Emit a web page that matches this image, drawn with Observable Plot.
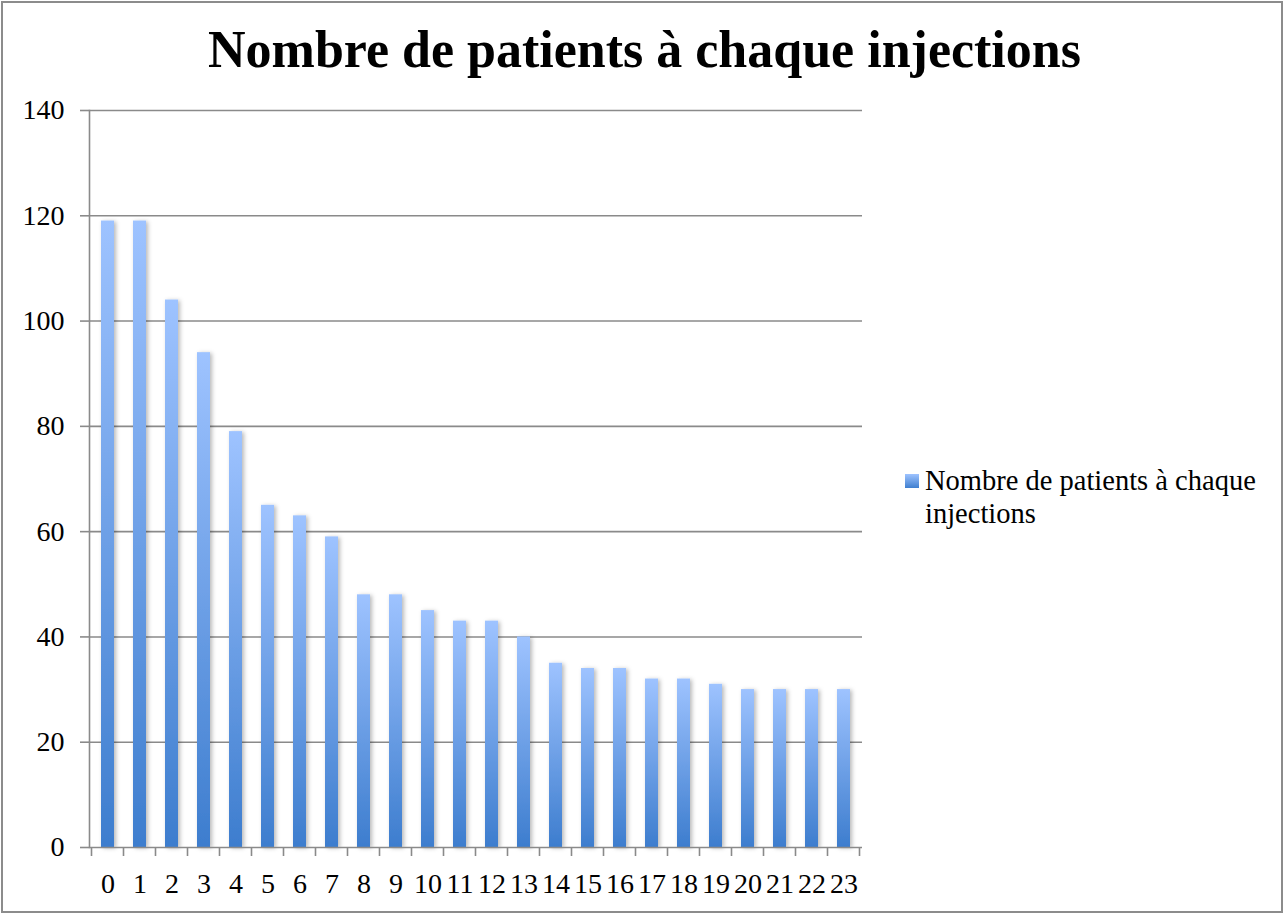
<!DOCTYPE html>
<html><head><meta charset="utf-8">
<script src="https://cdn.jsdelivr.net/npm/d3@7"></script>
<script src="https://cdn.jsdelivr.net/npm/@observablehq/plot@0.6"></script>
<style>
body{margin:0;background:#fff;}
#frame{position:relative;width:1283px;height:914px;overflow:hidden;font-family:"Liberation Serif",serif;color:#000;}
#border{position:absolute;left:1px;top:1px;width:1278px;height:908px;border:2px solid #8c8c8c;}
#title{position:absolute;left:0;width:1289px;top:20px;text-align:center;font-weight:bold;font-size:52px;line-height:60px;}
#chart{position:absolute;left:0;top:0;}
#legend{position:absolute;left:905px;top:464px;font-size:28.5px;line-height:33px;}
#legend .sw{position:absolute;left:0;top:10px;width:14px;height:14px;background:linear-gradient(#9ec3ff,#3f7fcf);}
#legend .tx{position:absolute;left:20px;top:0;white-space:nowrap;}
</style></head>
<body>
<div id="frame">
  <div id="border"></div>
  <div id="chart"></div>
  <div id="title"></div>
  <div id="legend"><div class="sw"></div><div class="tx"></div></div>
</div>
<script>
const titleText = "Nombre de patients à chaque injections";
const legendLines = ["Nombre de patients à chaque", "injections"];
const categories = ["0","1","2","3","4","5","6","7","8","9","10","11","12","13","14","15","16","17","18","19","20","21","22","23"];
const patients = [119,119,104,94,79,65,63,59,48,48,45,43,43,40,35,34,34,32,32,31,30,30,30,30];
const yTicks = [0,20,40,60,80,100,120,140];

const data = categories.map((c, i) => ({cat: c, value: patients[i]}));

document.getElementById("title").textContent = titleText;
document.querySelector("#legend .tx").innerHTML = legendLines.join("<br>");

const gridColor = "#8a8a8a";

const defs = () => {
  const d = d3.create("svg:defs");
  const g = d.append("linearGradient").attr("id", "barGrad").attr("x1", 0).attr("y1", 0).attr("x2", 0).attr("y2", 1);
  g.append("stop").attr("offset", "0%").attr("stop-color", "#9ec3ff");
  g.append("stop").attr("offset", "100%").attr("stop-color", "#3d7dce");
  const f = d.append("filter").attr("id", "shadow").attr("x", "-50%").attr("y", "-10%").attr("width", "200%").attr("height", "130%");
  f.append("feDropShadow").attr("dx", 2).attr("dy", 1).attr("stdDeviation", 2).attr("flood-color", "#000").attr("flood-opacity", 0.28);
  return d.node();
};

const chart = Plot.plot({
  width: 1283,
  height: 914,
  marginTop: 110,
  marginBottom: 67,
  marginLeft: 89,
  marginRight: 421,
  style: {fontFamily: "'Liberation Serif', serif", fontSize: "28px", color: "#000", background: "transparent", overflow: "visible"},
  x: {type: "band", domain: categories, paddingInner: 0.6, paddingOuter: 0.3, label: null},
  y: {domain: [0, 140], label: null},
  marks: [
    defs,
    Plot.gridY(yTicks.filter(t => t > 0), {stroke: gridColor, strokeOpacity: 1, strokeWidth: 1.6}),
    Plot.barY(data, {x: "cat", y: "value", fill: "url(#barGrad)"}),
    Plot.frame({anchor: "left", stroke: gridColor, strokeWidth: 1.6}),
    Plot.ruleY([0], {stroke: gridColor, strokeWidth: 1.6}),
    Plot.axisY(yTicks, {tickSize: 9, tickPadding: 16, stroke: gridColor, strokeWidth: 1.6, fill: "#000", fontSize: 28, label: null}),
    Plot.axisX({tickSize: 0, tickPadding: 26, fill: "#000", fontSize: 28, label: null})
  ]
});

document.getElementById("chart").appendChild(chart);

// shadow on bars
d3.select(chart).selectAll("g[aria-label='bar']").attr("filter", "url(#shadow)");

// x-axis boundary ticks between categories, from the library's scales
const xs = chart.scale("x");
const ys = chart.scale("y");
const y0 = ys.apply(0);
const first = xs.apply(categories[0]) - (xs.step - xs.bandwidth) / 2;
const tg = d3.select(chart).append("g").attr("stroke", gridColor).attr("stroke-width", 1.6);
for (let k = 0; k <= categories.length; k++) {
  const x = first + k * xs.step;
  tg.append("line").attr("x1", x).attr("x2", x).attr("y1", y0).attr("y2", y0 + 9);
}
</script>
</body></html>
